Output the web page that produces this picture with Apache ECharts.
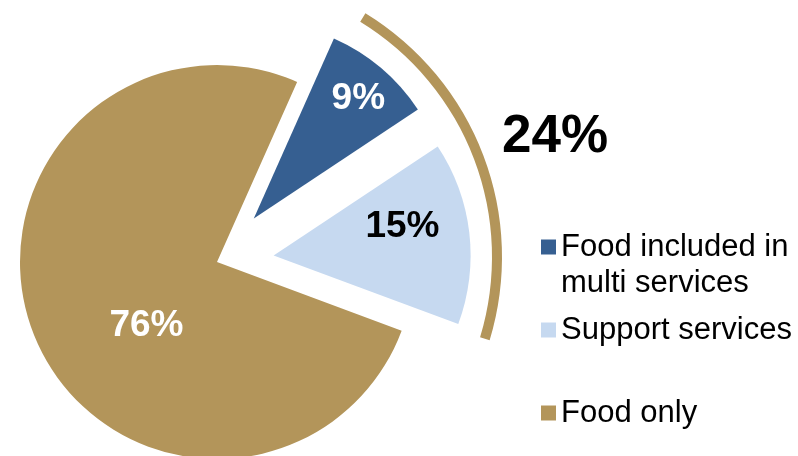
<!DOCTYPE html>
<html>
<head>
<meta charset="utf-8">
<script src="https://cdn.jsdelivr.net/npm/echarts@6/dist/echarts.min.js"></script>
<style>
  html, body { margin: 0; padding: 0; background: #fff; }
  #chart { width: 798px; height: 456px; }
</style>
</head>
<body>
<div id="chart"></div>
<script>
const categories = ['Food included in multi services', 'Support services', 'Food only'];
const shares = [9, 15, 76];
const pulledOut = [true, true, false];

const colors = ['#365F91', '#C6D9F0', '#B3955A'];
const labelColors = ['#fff', '#000', '#fff'];
// small nudges so the % labels sit where the original has them
const labelNudge = [[39, -42], [28, -17], [23, 24]];

const FONT = '"Liberation Sans", Arial, sans-serif';
const center = [217, 262];

// the bracket total over the pulled-out slices
const pulledTotal = shares.filter((v, i) => pulledOut[i]).reduce((a, b) => a + b, 0);

const chart = echarts.init(document.getElementById('chart'));

const legendText = { fontSize: 31, lineHeight: 36, color: '#000', fontFamily: FONT, width: 240, overflow: 'break' };

chart.setOption({
  animation: false,
  title: {
    text: pulledTotal + '%',
    left: 497,
    top: 106,
    textStyle: { fontSize: 53, fontWeight: 'bold', color: '#000', fontFamily: FONT }
  },
  legend: [
    {
      orient: 'vertical',
      left: 541,
      top: 193,
      padding: 0,
      itemGap: 11,
      itemWidth: 15,
      itemHeight: 15,
      icon: 'rect',
      selectedMode: false,
      data: [categories[0], categories[1]],
      // a leading blank line keeps the square level with the first line of a wrapped name
      formatter: name => (name.length > 20 ? '\n' + name : name),
      textStyle: legendText
    },
    {
      orient: 'vertical',
      left: 541,
      top: 395,
      padding: 0,
      itemWidth: 15,
      itemHeight: 15,
      icon: 'rect',
      selectedMode: false,
      data: [categories[2]],
      textStyle: legendText
    }
  ],
  series: [
    {
      type: 'pie',
      center: center,
      radius: 197,
      startAngle: 66,
      selectedMode: 'multiple',
      selectedOffset: 57,
      emphasis: { disabled: true },
      label: {
        show: true,
        position: 'inside',
        formatter: '{c}%',
        fontSize: 37,
        fontWeight: 'bold',
        fontFamily: FONT
      },
      labelLine: { show: false },
      labelLayout: function (p) {
        const n = labelNudge[p.dataIndex];
        return { dx: n[0], dy: n[1] };
      },
      data: categories.map((name, i) => ({
        name: name,
        value: shares[i],
        selected: pulledOut[i],
        itemStyle: { color: colors[i] },
        select: { itemStyle: { color: colors[i], borderWidth: 0 }, label: { color: labelColors[i] } },
        label: { color: labelColors[i] }
      }))
    },
    {
      // gold bracket around the pulled-out slices
      type: 'pie',
      center: [216, 257],
      radius: [276, 286],
      startAngle: 64,
      padAngle: 11,
      silent: true,
      label: { show: false },
      labelLine: { show: false },
      data: [
        { name: 'bracket', value: pulledTotal, itemStyle: { color: colors[2] } },
        { name: 'rest', value: 100 - pulledTotal, itemStyle: { color: 'rgba(0,0,0,0)' } }
      ]
    }
  ]
});
</script>
</body>
</html>
